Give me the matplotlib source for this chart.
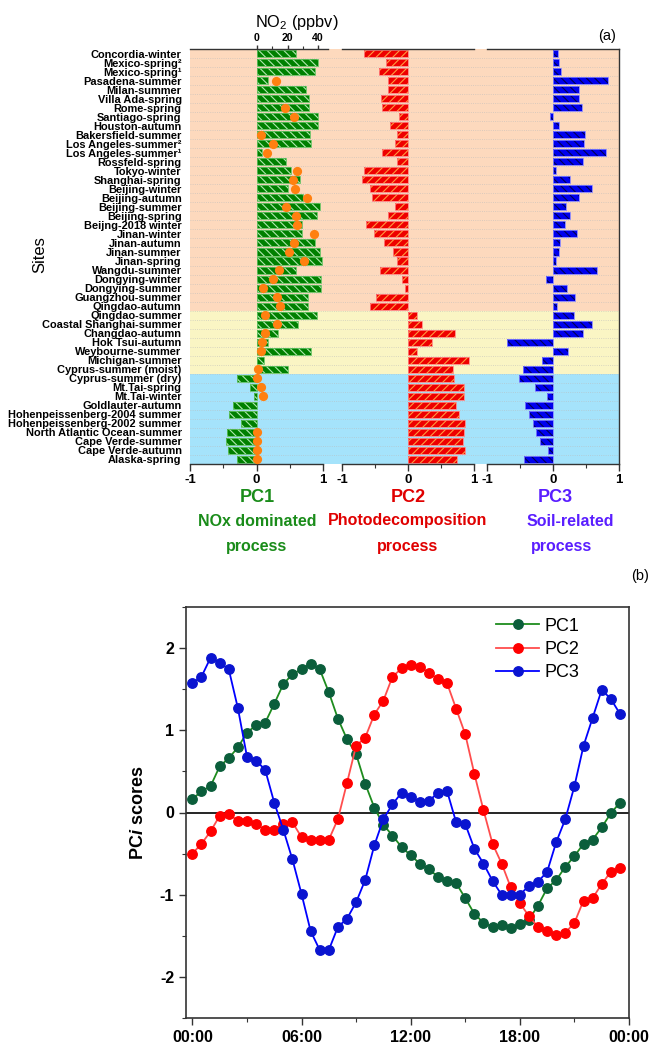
import matplotlib.pyplot as plt
import numpy as np
from matplotlib.ticker import MultipleLocator, FixedLocator

plt.rcParams['font.family'] = ['Liberation Sans', 'DejaVu Sans']
plt.rcParams['mathtext.fontset'] = 'custom'
plt.rcParams['mathtext.rm'] = 'Liberation Sans'
plt.rcParams['mathtext.it'] = 'Liberation Sans:italic:bold'
plt.rcParams['mathtext.bf'] = 'Liberation Sans:bold'
plt.rcParams['hatch.linewidth'] = 0.8

# ---- panel (a) data ----
sites = ['Concordia-winter', 'Mexico-spring\u00b2', 'Mexico-spring\u00b9', 'Pasadena-summer',
         'Milan-summer', 'Villa Ada-spring', 'Rome-spring', 'Santiago-spring',
         'Houston-autumn', 'Bakersfield-summer', 'Los Angeles-summer\u00b2',
         'Los Angeles-summer\u00b9', 'Rossfeld-spring', 'Tokyo-winter', 'Shanghai-spring',
         'Beijing-winter', 'Beijing-autumn', 'Beijing-summer', 'Beijing-spring',
         'Beijng-2018 winter', 'Jinan-winter', 'Jinan-autumn', 'Jinan-summer',
         'Jinan-spring', 'Wangdu-summer', 'Dongying-winter', 'Dongying-summer',
         'Guangzhou-summer', 'Qingdao-autumn', 'Qingdao-summer',
         'Coastal Shanghai-summer', 'Changdao-autumn', 'Hok Tsui-autumn',
         'Weybourne-summer', 'Michigan-summer', 'Cyprus-summer (moist)',
         'Cyprus-summer (dry)', 'Mt.Tai-spring', 'Mt.Tai-winter', 'Goldlauter-autumn',
         'Hohenpeissenberg-2004 summer', 'Hohenpeissenberg-2002 summer',
         'North Atlantic Ocean-summer', 'Cape Verde-summer', 'Cape Verde-autumn',
         'Alaska-spring']

pc1 = [0.60, 0.93, 0.88, 0.18, 0.75, 0.79, 0.79, 0.92, 0.93, 0.81, 0.82, 0.08,
       0.44, 0.52, 0.66, 0.47, 0.70, 0.96, 0.91, 0.69, 0.69, 0.88, 0.95, 0.98,
       0.59, 0.97, 0.97, 0.77, 0.78, 0.91, 0.62, 0.32, 0.17, 0.82, 0.11, 0.48,
       -0.30, -0.10, -0.04, -0.35, -0.41, -0.23, -0.45, -0.46, -0.43, -0.30]

pc2 = [-0.67, -0.34, -0.44, -0.30, -0.31, -0.41, -0.39, -0.14, -0.27, -0.17, -0.19, -0.39,
       -0.17, -0.67, -0.70, -0.58, -0.55, -0.19, -0.30, -0.64, -0.52, -0.37, -0.22, -0.17,
       -0.42, -0.09, -0.05, -0.48, -0.58, 0.13, 0.21, 0.71, 0.37, 0.14, 0.93, 0.68,
       0.69, 0.85, 0.85, 0.73, 0.77, 0.87, 0.85, 0.83, 0.87, 0.74]

pc3 = [0.08, 0.09, 0.12, 0.83, 0.40, 0.40, 0.44, -0.05, 0.09, 0.49, 0.47, 0.80,
       0.46, 0.04, 0.26, 0.59, 0.40, 0.20, 0.25, 0.18, 0.37, 0.11, 0.09, 0.05,
       0.66, -0.11, 0.21, 0.33, 0.06, 0.32, 0.59, 0.45, -0.70, 0.23, -0.16, -0.46,
       -0.51, -0.28, -0.09, -0.43, -0.36, -0.30, -0.26, -0.20, -0.07, -0.44]

nan = np.nan
no2 = [nan, nan, nan, 12.3, nan, nan, 18.4, 24.4, nan, 2.8, 10.8, 6.5,
       nan, 26.3, 23.8, 24.6, 32.8, 19.0, 25.9, 26.3, 37.4, 24.2, 20.7, 30.7,
       14.7, 10.4, 3.7, 13.0, 15.1, 5.4, 13.0, 5.0, 3.5, 2.6, nan, 0.4,
       0.2, 2.4, 4.1, nan, nan, nan, 0.2, 0.2, 0.2, 0.2]
no2_ticks = [0, 20, 40]
no2_minor = [10, 30]

group_sizes = [29, 7, 10]
group_colors = ['#fdd9bd', '#faf5c4', '#a5e3fb']

# ---- panel (b) data ----
hours = np.arange(48) * 0.5
score1 = [0.16, 0.26, 0.32, 0.56, 0.66, 0.79, 0.97, 1.06, 1.09, 1.32, 1.56, 1.68,
          1.74, 1.81, 1.74, 1.46, 1.14, 0.89, 0.71, 0.35, 0.06, -0.15, -0.28, -0.42,
          -0.52, -0.62, -0.69, -0.78, -0.83, -0.86, -1.04, -1.23, -1.34, -1.39, -1.37, -1.40,
          -1.36, -1.30, -1.13, -0.92, -0.82, -0.66, -0.53, -0.38, -0.33, -0.18, -0.01, 0.12]
score2 = [-0.50, -0.38, -0.23, -0.04, -0.02, -0.10, -0.10, -0.14, -0.21, -0.21, -0.14, -0.12,
          -0.30, -0.34, -0.33, -0.33, -0.08, 0.36, 0.81, 0.91, 1.19, 1.36, 1.65, 1.75,
          1.79, 1.77, 1.70, 1.62, 1.57, 1.26, 0.95, 0.47, 0.03, -0.38, -0.62, -0.91,
          -1.10, -1.26, -1.39, -1.44, -1.49, -1.46, -1.34, -1.07, -1.04, -0.87, -0.72, -0.68]
score3 = [1.57, 1.65, 1.88, 1.82, 1.74, 1.27, 0.68, 0.63, 0.52, 0.12, -0.21, -0.57,
          -0.99, -1.44, -1.67, -1.67, -1.39, -1.29, -1.09, -0.82, -0.40, -0.08, 0.10, 0.24,
          0.19, 0.13, 0.14, 0.24, 0.26, -0.12, -0.14, -0.44, -0.62, -0.83, -1.00, -1.00,
          -1.00, -0.89, -0.84, -0.72, -0.36, -0.08, 0.32, 0.81, 1.15, 1.49, 1.38, 1.20]

W, H = 653, 1048


def rect(x0, y0, x1, y1):
    # pixel box (top-left origin) -> figure fraction
    return [x0 / W, 1 - y1 / H, (x1 - x0) / W, (y1 - y0) / H]


fig = plt.figure(figsize=(W / 100, H / 100), dpi=100)

y = np.arange(len(sites))
ylim = (len(sites) - 0.5, -0.5)
spine_c = '#333333'

# background shading behind the three panels
bg = fig.add_axes(rect(190, 49, 619, 464))
bg.set_xlim(0, 1)
bg.set_ylim(*ylim)
start = -0.5
for n, c in zip(group_sizes, group_colors):
    bg.axhspan(start, start + n, color=c, lw=0)
    start += n
for yy in y[:-1]:
    bg.axhline(yy + 0.5, color='#bbbbbb', ls=':', lw=0.6, alpha=0.7)
bg.axis('off')

panels = [
    (190, 323, pc1, '#008000', '#b0e8b0', '#60c060', '\\\\\\\\'),
    (342, 474, pc2, '#ee0000', '#ff9a40', '#ff8080', '////'),
    (487, 619, pc3, '#0000ee', '#000050', '#8080ff', '\\\\\\\\'),
]
for i, (x0, x1, vals, fc, hc, ec, hatch) in enumerate(panels):
    ax = fig.add_axes(rect(x0, 49, x1, 464), facecolor='none')
    ax.barh(y, vals, height=0.78, color=fc, edgecolor=hc, hatch=hatch, linewidth=0)
    ax.barh(y, vals, height=0.78, fill=False, edgecolor=ec, linewidth=0.6)
    ax.set_xlim(-1, 1)
    ax.set_ylim(*ylim)
    ax.set_xticks([-1, 0, 1])
    ax.set_xticklabels(['-1', '0', '1'], fontweight='bold', fontsize=9.5)
    ax.xaxis.set_minor_locator(MultipleLocator(0.5))
    ax.tick_params(axis='x', which='major', direction='out', length=5, width=1, pad=2,
                   colors=spine_c, labelcolor='black')
    ax.tick_params(axis='x', which='minor', direction='out', length=3, width=0.8, colors=spine_c)
    ax.spines['left'].set_visible(False)
    ax.spines['right'].set_visible(i == 2)
    ax.spines['top'].set_visible(i != 0)
    for s in ax.spines.values():
        s.set_color(spine_c)
        s.set_linewidth(1.0)
    if i == 0:
        ax.set_yticks(y)
        ax.set_yticklabels(sites, fontweight='bold', fontsize=7.9)
        ax.tick_params(axis='y', length=0, pad=6)
    else:
        ax.set_yticks([])

# NO2 axis on top of PC1 panel
nax = fig.add_axes(rect(190, 49, 328, 464), facecolor='none')
px_per_ppb = (318 - 257) / 40.0
nax.set_xlim((190 - 257) / px_per_ppb, (328 - 257) / px_per_ppb)
nax.set_ylim(*ylim)
nax.scatter(no2, y, s=44, color='#ff8010', zorder=3, linewidths=0)
nax.xaxis.set_ticks_position('top')
nax.set_xticks(no2_ticks, labels=[str(t) for t in no2_ticks])
nax.xaxis.set_minor_locator(FixedLocator(no2_minor))
nax.tick_params(axis='x', which='major', direction='out', length=3, width=1, pad=1.5,
                colors=spine_c, labelcolor='black', labelsize=7.6)
nax.tick_params(axis='x', which='minor', direction='out', length=2, width=0.8, colors=spine_c)
for lab in nax.get_xticklabels():
    lab.set_fontweight('bold')
nax.set_yticks([])
for k in ['left', 'right', 'bottom']:
    nax.spines[k].set_visible(False)
nax.spines['top'].set_color(spine_c)
nax.spines['top'].set_linewidth(1.0)

fig.text(296.5 / W, 1 - 22 / H, 'NO$_2$ (ppbv)', ha='center', va='center', fontsize=11.8)
fig.text(607 / W, 1 - 36 / H, '(a)', ha='center', va='center', fontsize=10.5)
fig.text(40 / W, 1 - 255 / H, 'Sites', ha='center', va='center', rotation=90, fontsize=12)

labels = [
    (257, '#1a8c1a', 'PC1', 'NOx dominated', 'process', 257, 257),
    (408, '#e00000', 'PC2', 'Photodecomposition', 'process', 408, 408),
    (555, '#5a1eff', 'PC3', 'Soil-related', 'process', 570, 562),
]
for xc, c, name, l1, l2, x1, x2 in labels:
    fig.text(xc / W, 1 - 497 / H, name, ha='center', va='center', color=c,
             fontweight='bold', fontsize=13)
    fig.text(x1 / W, 1 - 521 / H, l1, ha='center', va='center', color=c,
             fontweight='bold', fontsize=11.5)
    fig.text(x2 / W, 1 - 547 / H, l2, ha='center', va='center', color=c,
             fontweight='bold', fontsize=11.5)

# ---- panel (b) ----
axb = fig.add_axes(rect(186, 606.7, 629, 1018.3))
axb.axhline(0, color='black', lw=1.2, zorder=1)
axb.plot(hours, score1, '-o', color='#1e8c1e', mfc='#0b5e3b', mec='#0b5e3b', ms=6.8,
         lw=1.3, label='PC1', zorder=3)
axb.plot(hours, score2, '-o', color='#ff4d4d', mfc='#ff0000', mec='#ff0000', ms=6.8,
         lw=1.3, label='PC2', zorder=3)
axb.plot(hours, score3, '-o', color='#0000ff', mfc='#0a14d0', mec='#0a14d0', ms=6.8,
         lw=1.3, label='PC3', zorder=3)
axb.set_xlim(-0.35, 24.0)
axb.set_ylim(-2.5, 2.5)
axb.set_xticks([0, 6, 12, 18, 24])
axb.set_xticklabels(['00:00', '06:00', '12:00', '18:00', '00:00'], fontweight='bold',
                    fontsize=11.5)
axb.xaxis.set_minor_locator(MultipleLocator(3))
axb.set_yticks([-2, -1, 0, 1, 2])
axb.set_yticklabels(['-2', '-1', '0', '1', '2'], fontweight='bold', fontsize=11.5)
axb.yaxis.set_minor_locator(MultipleLocator(0.5))
axb.tick_params(which='major', direction='out', length=5, width=1, colors=spine_c,
                labelcolor='black')
axb.tick_params(which='minor', direction='out', length=3, width=0.8, colors=spine_c)
for s in axb.spines.values():
    s.set_color(spine_c)
    s.set_linewidth(1.2)
axb.set_ylabel('PC$i$ scores', fontweight='bold', fontsize=13, labelpad=9)
axb.legend(loc='upper left', bbox_to_anchor=(0.675, 1.0), frameon=False, fontsize=13,
           handlelength=2.4, handletextpad=0.3, labelspacing=0.35, borderaxespad=0.2)

fig.text(640 / W, 1 - 576 / H, '(b)', ha='center', va='center', fontsize=10.5)

plt.savefig('out.png', dpi=100)
